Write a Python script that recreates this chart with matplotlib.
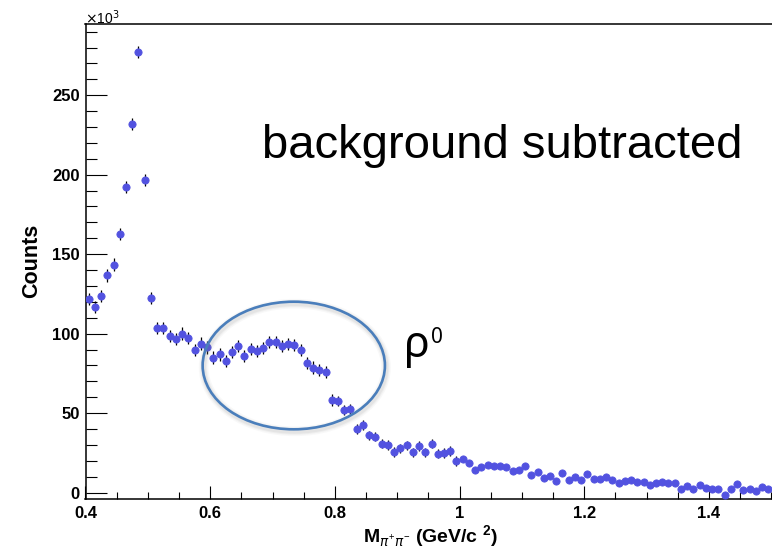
import numpy as np
import matplotlib
matplotlib.use("Agg")
import matplotlib.pyplot as plt
from matplotlib.patches import Ellipse
from matplotlib.ticker import MultipleLocator, FixedLocator

# ---------------- data (counts in units of 10^3) ----------------
bin_low = 0.40
bin_width = 0.01
counts = [
    121.7, 116.7, 123.8, 136.6, 143.5, 162.6, 192.0, 231.8, 277.2, 196.4,
    122.6, 103.3, 103.6, 98.4, 96.5, 100.1, 97.2, 89.6, 93.8, 91.3,
    85.0, 86.9, 82.9, 88.6, 92.3, 86.0, 90.3, 89.0, 91.1, 94.5,
    94.8, 92.3, 93.6, 92.6, 89.6, 81.8, 78.7, 77.2, 76.0, 58.0,
    57.5, 51.9, 52.5, 40.1, 42.5, 36.0, 35.3, 30.9, 30.1, 25.7,
    27.8, 29.7, 25.3, 29.2, 25.3, 30.9, 24.6, 25.0, 26.3, 20.0,
    21.1, 18.6, 14.2, 15.9, 17.2, 16.7, 16.5, 16.4, 13.9, 14.2,
    16.7, 11.0, 12.9, 9.5, 10.4, 7.4, 12.5, 8.1, 9.7, 8.1,
    11.6, 8.7, 8.5, 9.7, 7.9, 6.2, 7.4, 8.1, 6.8, 6.4,
    5.1, 5.8, 6.4, 5.8, 6.2, 2.4, 3.9, 2.0, 4.5, 3.0,
    2.0, 2.0, -1.4, 2.4, 5.5, 1.8, 2.0, 0.9, 3.6, 2.4,
]
errors = [3.8] * 40 + [3.0] * 20 + [1.7] * 50
mass = bin_low + bin_width * (np.arange(len(counts)) + 0.5)

x_major = [0.4, 0.6, 0.8, 1.0, 1.2, 1.4]
x_major_labels = ["0.4", "0.6", "0.8", "1", "1.2", "1.4"]
y_major = [0, 50, 100, 150, 200, 250]

# ---------------- figure ----------------
W, H = 772, 553
fig = plt.figure(figsize=(W / 100, H / 100), dpi=100)

ax_left, ax_right, ax_top, ax_bottom = 85.5, 775.0, 24.3, 499.0
ax = fig.add_axes([ax_left / W, 1 - ax_bottom / H,
                   (ax_right - ax_left) / W, (ax_bottom - ax_top) / H])
px_per_unit = 623.5
ax.set_xlim(0.4, 0.4 + (ax_right - ax_left) / px_per_unit)
ax.set_ylim(-4.0, 294.6)

marker_color = "#5252E0"
ax.vlines(mass, np.array(counts) - np.array(errors), np.array(counts) + np.array(errors),
          color="black", lw=0.9, zorder=2)
ax.plot(mass, counts, "o", ms=5.2, mfc=marker_color, mec=marker_color, mew=0.6, zorder=3)

ax.spines["right"].set_visible(False)
for s in ["left", "bottom", "top"]:
    ax.spines[s].set_linewidth(1.1)
    ax.spines[s].set_color("black")

ax.xaxis.set_major_locator(FixedLocator(x_major))
ax.set_xticklabels(x_major_labels)
ax.xaxis.set_minor_locator(MultipleLocator(0.05))
ax.yaxis.set_major_locator(FixedLocator(y_major))
ax.yaxis.set_minor_locator(MultipleLocator(10))

for lab in ax.get_xticklabels() + ax.get_yticklabels():
    lab.set_fontfamily("Liberation Sans")
    lab.set_fontweight("bold")
    lab.set_fontsize(12)

ax.tick_params(axis="x", which="major", direction="in", length=9.4, width=0.8, pad=5)
ax.tick_params(axis="x", which="minor", direction="in", length=5.0, width=0.8)
ax.tick_params(axis="y", which="major", direction="in", length=15.0, width=0.8, pad=4)
ax.tick_params(axis="y", which="minor", direction="in", length=7.9, width=0.8)
ax.tick_params(top=False, right=False, which="both")

# exponent label
fig.text(85 / W, 1 - 18 / H, r"$\times$10$^{3}$", fontsize=10,
         family="Liberation Sans", ha="left", va="center")

# axis titles
fig.text(32 / W, 1 - 260.5 / H, "Counts", rotation=90, ha="center", va="center",
         fontsize=15.5, fontweight="bold", family="Liberation Sans")
plt.rcParams["mathtext.fontset"] = "custom"
plt.rcParams["mathtext.rm"] = "Liberation Sans"
plt.rcParams["mathtext.bf"] = "Liberation Sans:bold"
fig.text(431 / W, 1 - 537 / H, r"M$_{\pi^{+}\pi^{-}}$ (GeV/c $^{\mathbf{2}}$)",
         ha="center", va="center", fontsize=14, fontweight="bold", family="Liberation Sans")

# annotations
fig.text(261.7 / W, 1 - 158 / H, "background subtracted", ha="left", va="baseline",
         fontsize=34, family="Liberation Sans", color="black")
fig.text(404 / W, 1 - 357 / H, "ρ", ha="left", va="baseline",
         fontsize=31, family="Noto Sans", color="black")
fig.text(431 / W, 1 - 343 / H, "0", ha="left", va="baseline",
         fontsize=15, family="Noto Sans", color="black")

# ellipse with soft shadow
cx, cy, ew, eh = 293.8, 365.5, 182.3, 127.6
for lw, a in [(7, 0.05), (5, 0.07), (3.5, 0.09)]:
    fig.patches.append(Ellipse(((cx + 1) / W, 1 - (cy + 2) / H), ew / W, eh / H,
                               transform=fig.transFigure, fill=False,
                               edgecolor="gray", lw=lw, alpha=a, zorder=4))
fig.patches.append(Ellipse((cx / W, 1 - cy / H), ew / W, eh / H,
                           transform=fig.transFigure, fill=False,
                           edgecolor="#4A7EBB", lw=1.9, zorder=5))

fig.savefig("out.png", dpi=100)
